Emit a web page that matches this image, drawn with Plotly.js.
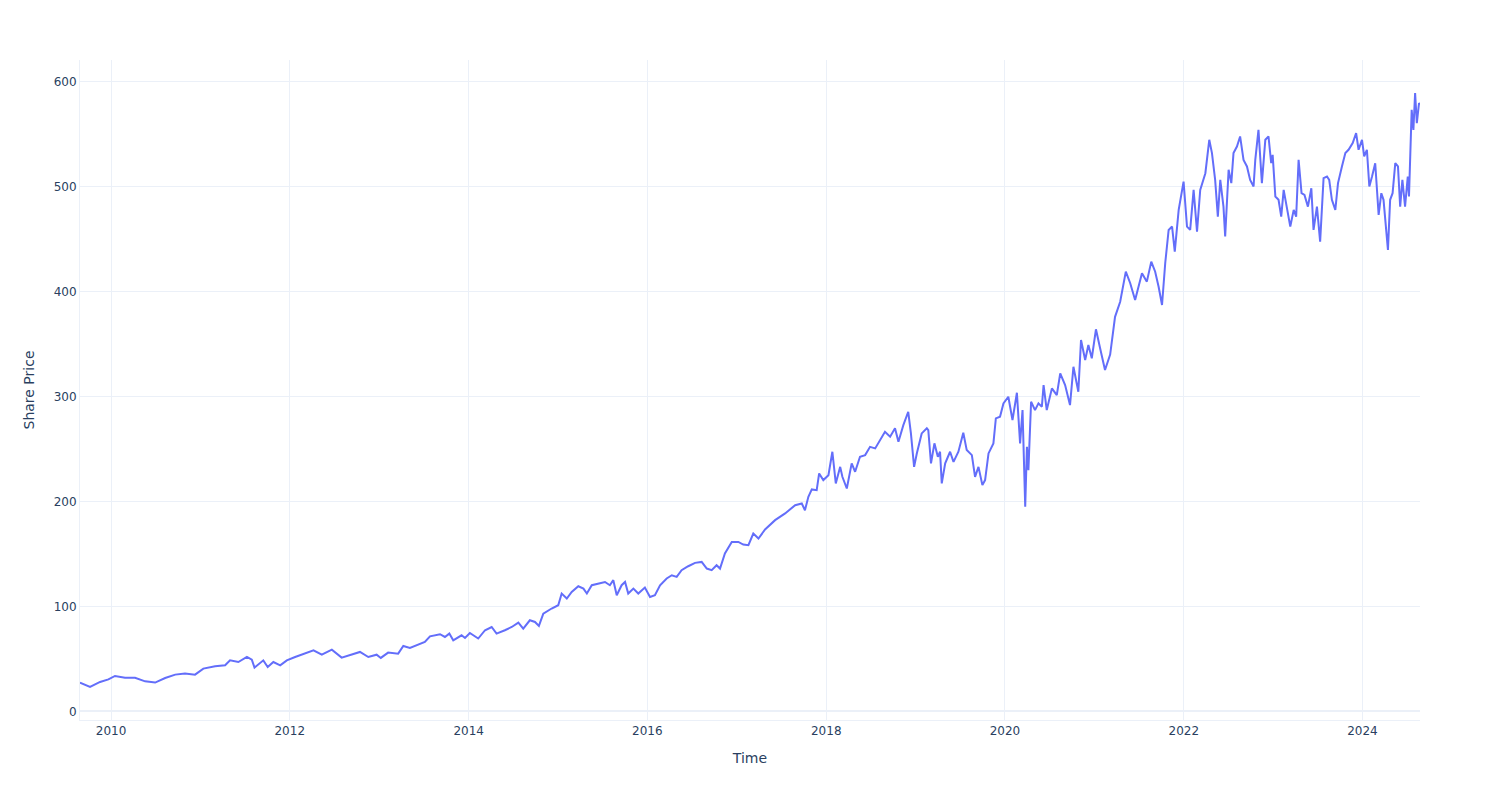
<!DOCTYPE html>
<html>
<head>
<meta charset="utf-8">
<script src="https://cdn.plot.ly/plotly-3.0.1.min.js"></script>
<style>html,body{margin:0;padding:0;background:#fff;}#chart{width:1500px;height:800px;}</style>
</head>
<body>
<div id="chart"></div>
<script>
const dates = [
"2009-08-27","2009-10-07","2009-11-17","2009-12-21","2010-01-17","2010-02-27","2010-04-09","2010-05-20","2010-06-30","2010-08-10",
"2010-09-20","2010-10-30","2010-12-10","2011-01-13","2011-03-02","2011-04-12","2011-05-02","2011-06-05","2011-07-10","2011-07-30",
"2011-08-10","2011-09-15","2011-10-03","2011-10-26","2011-11-23","2011-12-20","2012-01-23","2012-03-04","2012-04-07","2012-05-11",
"2012-06-21","2012-07-31","2012-09-10","2012-10-14","2012-11-17","2012-12-21","2013-01-07","2013-02-06","2013-03-19","2013-04-09",
"2013-05-06","2013-06-09","2013-07-06","2013-07-27","2013-09-06","2013-09-26","2013-10-14","2013-10-30","2013-12-03","2013-12-17",
"2014-01-06","2014-02-09","2014-03-09","2014-04-05","2014-04-25","2014-05-29","2014-06-26","2014-07-23","2014-08-12","2014-09-08",
"2014-09-29","2014-10-15","2014-11-02","2014-12-06","2015-01-02","2015-01-16","2015-02-06","2015-02-26","2015-03-25","2015-04-15",
"2015-04-29","2015-05-19","2015-06-15","2015-07-12","2015-08-01","2015-08-15","2015-08-29","2015-09-18","2015-10-02","2015-10-15",
"2015-11-05","2015-11-25","2015-12-22","2016-01-12","2016-02-01","2016-02-22","2016-03-20","2016-04-10","2016-04-30","2016-05-20",
"2016-06-16","2016-07-14","2016-08-10","2016-08-31","2016-09-20","2016-10-10","2016-10-24","2016-11-13","2016-12-11","2017-01-07",
"2017-01-27","2017-02-17","2017-03-09","2017-03-30","2017-04-26","2017-06-06","2017-07-17","2017-08-27","2017-09-23","2017-10-06",
"2017-10-20","2017-11-03","2017-11-23","2017-12-03","2017-12-20","2018-01-10","2018-01-26","2018-02-09","2018-02-27","2018-03-08",
"2018-03-26","2018-04-15","2018-04-29","2018-05-19","2018-06-09","2018-06-29","2018-07-20","2018-08-09","2018-08-29","2018-09-19",
"2018-10-09","2018-10-23","2018-11-12","2018-12-02","2018-12-13","2018-12-26","2019-01-06","2019-01-26","2019-02-16","2019-02-22",
"2019-03-05","2019-03-19","2019-04-02","2019-04-11","2019-04-18","2019-05-02","2019-05-22","2019-06-05","2019-06-25","2019-07-15",
"2019-07-29","2019-08-19","2019-09-01","2019-09-15","2019-10-01","2019-10-12","2019-10-26","2019-11-15","2019-11-25","2019-12-12",
"2019-12-26","2020-01-15","2020-02-01","2020-02-19","2020-03-03","2020-03-13","2020-03-24","2020-03-31","2020-04-06","2020-04-17",
"2020-05-03","2020-05-17","2020-05-31","2020-06-07","2020-06-20","2020-07-11","2020-07-31","2020-08-14","2020-09-03","2020-09-23",
"2020-10-07","2020-10-27","2020-11-07","2020-11-24","2020-12-07","2020-12-21","2021-01-07","2021-01-24","2021-02-13","2021-03-06",
"2021-03-26","2021-04-16","2021-05-09","2021-05-27","2021-06-16","2021-07-14","2021-08-03","2021-08-21","2021-09-06","2021-09-20",
"2021-10-04","2021-10-17","2021-10-31","2021-11-14","2021-11-25","2021-12-11","2021-12-31","2022-01-14","2022-01-27","2022-02-10",
"2022-02-24","2022-03-09","2022-03-30","2022-04-15","2022-04-26","2022-05-09","2022-05-20","2022-05-30","2022-06-12","2022-06-19",
"2022-07-03","2022-07-14","2022-07-23","2022-08-06","2022-08-19","2022-09-02","2022-09-16","2022-09-29","2022-10-13","2022-10-20",
"2022-11-02","2022-11-16","2022-11-30","2022-12-13","2022-12-24","2022-12-30","2023-01-10","2023-01-23","2023-02-03","2023-02-13",
"2023-02-22","2023-03-12","2023-03-26","2023-04-05","2023-04-15","2023-04-27","2023-05-09","2023-05-23","2023-06-06","2023-06-15",
"2023-06-29","2023-07-12","2023-07-26","2023-08-09","2023-08-18","2023-08-29","2023-09-12","2023-09-23","2023-10-09","2023-10-23",
"2023-11-05","2023-11-22","2023-12-06","2023-12-16","2023-12-30","2024-01-08","2024-01-19","2024-01-29","2024-02-09","2024-02-22",
"2024-03-07","2024-03-18","2024-03-27","2024-04-06","2024-04-14","2024-04-23","2024-05-03","2024-05-14","2024-05-25","2024-06-03",
"2024-06-12","2024-06-23","2024-07-04","2024-07-09","2024-07-20","2024-07-27","2024-08-03","2024-08-10","2024-08-19","2024-08-23"
];
const prices = [
27.4,23.2,28.0,30.5,33.7,32.1,32.0,28.6,27.4,31.8,
35.0,36.0,35.0,40.7,43.0,43.9,48.6,47.0,51.8,49.3,
41.7,48.6,42.3,47.0,43.9,48.6,51.8,55.0,58.2,54.0,
58.8,51.2,54.0,56.6,51.8,54.0,50.9,56.0,55.0,62.3,
60.4,63.6,66.1,71.5,73.5,70.9,74.1,67.7,72.5,69.9,
74.7,69.4,77.3,80.4,74.1,77.3,80.4,84.6,78.9,86.8,
85.2,81.4,93.2,98.0,101.1,112.3,107.5,113.8,119.2,117.0,
112.3,120.2,121.8,123.3,120.2,125.0,110.7,120.2,123.3,112.3,
117.0,112.3,118.0,109.0,110.7,120.2,126.6,129.7,128.1,134.5,
138.3,141.5,142.4,136.1,134.5,139.3,136.1,150.4,161.5,161.5,
159.0,158.4,169.5,164.7,173.3,182.2,188.6,196.5,198.1,191.7,
204.4,211.5,210.8,226.7,220.4,225.1,247.4,217.2,233.0,223.5,
212.4,236.3,228.3,242.6,244.2,252.1,250.6,258.5,266.4,261.7,
269.7,256.9,272.8,285.5,264.9,233.0,245.8,264.9,269.7,268.0,
236.3,255.4,242.6,247.4,217.2,236.3,247.4,237.8,247.4,265.5,
249.0,244.2,223.5,233.0,215.6,220.4,245.8,255.4,279.2,280.7,
293.5,299.8,277.6,303.6,255.4,287.1,194.9,252.1,229.9,295.1,
287.1,293.5,290.3,311.0,287.1,307.8,301.4,322.1,311.0,291.9,
328.4,304.6,353.9,334.8,349.1,336.5,364.1,346.0,325.3,340.0,
376.0,390.4,419.0,408.0,392.0,417.5,409.5,428.6,419.0,404.7,
387.3,427.1,458.8,462.0,438.2,477.9,504.9,462.0,458.8,497.0,
457.2,497.0,512.9,544.7,532.0,506.5,471.5,506.5,481.0,452.5,
516.1,503.4,532.0,538.3,547.9,525.6,519.3,506.5,500.2,525.6,
554.2,503.4,544.7,547.9,522.4,530.4,490.6,487.5,471.5,497.0,
484.3,462.0,477.9,471.5,525.6,493.8,492.2,481.0,498.5,458.8,
481.0,447.7,508.1,509.7,506.5,487.5,477.9,503.4,519.3,532.0,
535.2,541.6,551.1,535.2,544.7,528.8,535.2,500.2,509.7,522.4,
473.1,493.8,487.5,458.8,439.8,487.5,493.8,522.4,519.3,481.0,
506.5,481.0,509.7,490.6,573.3,554.2,589.3,560.6,579.7,578.0
];

const gridCol = '#EBF0F8';
const trace = {
  type: 'scatter',
  mode: 'lines',
  x: dates,
  y: prices,
  line: {color: '#636efa', width: 2},
  name: ''
};
const layout = {
  width: 1500,
  height: 800,
  paper_bgcolor: '#ffffff',
  plot_bgcolor: '#ffffff',
  margin: {l: 80, r: 80, t: 60, b: 80},
  font: {family: 'DejaVu Sans, Verdana, sans-serif', color: '#2a3f5f', size: 12},
  showlegend: false,
  xaxis: {
    type: 'date',
    title: {text: 'Time', font: {size: 14}, standoff: 15},
    gridcolor: gridCol, linecolor: gridCol, zerolinecolor: gridCol,
    showgrid: true, ticks: '', automargin: true
  },
  yaxis: {
    title: {text: 'Share Price', font: {size: 14}, standoff: 15},
    gridcolor: gridCol, linecolor: gridCol, zerolinecolor: gridCol, zerolinewidth: 2,
    showgrid: true, ticks: '', automargin: true
  }
};
Plotly.newPlot('chart', [trace], layout, {displayModeBar: false});
</script>
</body>
</html>
